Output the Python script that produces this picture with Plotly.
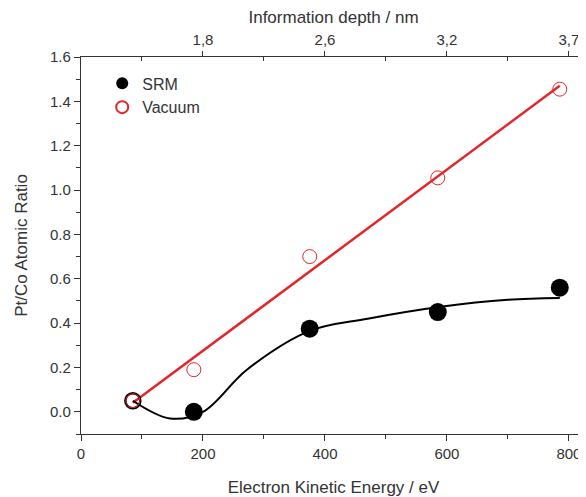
import numpy as np
import plotly.graph_objects as go

# ---- data ----
energy = [85, 185, 375, 585, 785]
srm_ratio = [0.05, 0.00, 0.375, 0.45, 0.56]
vacuum_ratio = [0.05, 0.19, 0.70, 1.055, 1.455]

# smooth guide curve for SRM
srm_curve_x = [85, 146, 200, 272, 375, 470, 590, 700, 785]
srm_curve_y = [0.05, -0.03, 0.0, 0.19, 0.365, 0.42, 0.474, 0.505, 0.513]

depth_tick_energy = [200, 400, 600, 800]
depth_tick_labels = ["1,8", "2,6", "3,2", "3,7"]

# linear fit for vacuum
slope, intercept = np.polyfit(energy, vacuum_ratio, 1)
fit_x = np.array([energy[0], energy[-1]])
fit_y = slope * fit_x + intercept

RED = "#e3262b"
FONT = "Liberation Sans, Arial, sans-serif"
TXT = "#333333"

fig = go.Figure()

fig.add_trace(go.Scatter(x=fit_x, y=fit_y, mode="lines",
                         line=dict(color=RED, width=2.5), showlegend=False, hoverinfo="skip"))
fig.add_trace(go.Scatter(x=srm_curve_x, y=srm_curve_y, mode="lines",
                         line=dict(color="black", width=2, shape="spline", smoothing=1.0),
                         showlegend=False, hoverinfo="skip"))

srm_symbols = ["circle-open"] + ["circle"] * (len(energy) - 1)
fig.add_trace(go.Scatter(x=energy, y=srm_ratio, mode="markers", showlegend=False,
                         marker=dict(symbol=srm_symbols, size=[15, 18, 18, 18, 18], color="black",
                                     opacity=1,
                                     line=dict(color="black", width=[2.5, 0, 0, 0, 0]))))
fig.add_trace(go.Scatter(x=energy, y=vacuum_ratio, mode="markers", showlegend=False,
                         marker=dict(symbol="circle-open", size=14, color=RED, opacity=1,
                                     line=dict(color=RED, width=1))))

# legend entries
fig.add_trace(go.Scatter(x=[None], y=[None], mode="markers", name="SRM",
                         marker=dict(symbol="circle", size=17, color="black")))
fig.add_trace(go.Scatter(x=[None], y=[None], mode="markers", name="Vacuum",
                         marker=dict(symbol="circle-open", size=14, color=RED, line=dict(width=1))))

fig.add_trace(go.Scatter(x=[None], y=[None], xaxis="x2", showlegend=False))

fig.update_layout(
    width=586, height=497,
    margin=dict(l=73, r=8, t=49, b=71),
    paper_bgcolor="white", plot_bgcolor="white",
    font=dict(family=FONT, size=15, color=TXT),
    legend=dict(x=0.042, y=0.975, xanchor="left", yanchor="top", bgcolor="rgba(0,0,0,0)",
                font=dict(size=16, color=TXT), itemsizing="constant", tracegroupgap=0),
    xaxis=dict(range=[0, 828], tickvals=[0, 200, 400, 600, 800], ticks="outside", ticklen=6,
               tickcolor="#333", showline=True, linecolor="#333", linewidth=1.2, automargin=False,
               showgrid=False, zeroline=False, tickfont=dict(size=15, color=TXT),
               minor=dict(tickvals=[100, 300, 500, 700], ticks="outside", ticklen=4, tickcolor="#333"),
               title=dict(text="Electron Kinetic Energy / eV", font=dict(size=17, color=TXT), standoff=20)),
    xaxis2=dict(overlaying="x", side="top", range=[0, 828], tickmode="array", automargin=False,
                tickvals=depth_tick_energy, ticktext=depth_tick_labels, ticks="outside", ticklen=5,
                tickcolor="#333", showline=True, linecolor="#333", linewidth=1.2,
                showgrid=False, zeroline=False, tickfont=dict(size=15, color=TXT),
                minor=dict(tickvals=[100, 300, 500, 700], ticks="inside", ticklen=4, tickcolor="#333"),
                title=dict(text="Information depth / nm", font=dict(size=17, color=TXT), standoff=2)),
    yaxis=dict(range=[-0.1, 1.6], tickvals=[0, 0.2, 0.4, 0.6, 0.8, 1.0, 1.2, 1.4, 1.6],
               tickformat=".1f", ticks="outside", ticklen=6, tickcolor="#333", automargin=False,
               showline=True, linecolor="#333", linewidth=1.2, showgrid=False, zeroline=False,
               tickfont=dict(size=15, color=TXT),
               minor=dict(dtick=0.1, ticks="outside", ticklen=4, tickcolor="#333"),
               title=dict(text="Pt/Co Atomic Ratio", font=dict(size=17, color=TXT), standoff=18)),
)

fig.write_html("out.html")
